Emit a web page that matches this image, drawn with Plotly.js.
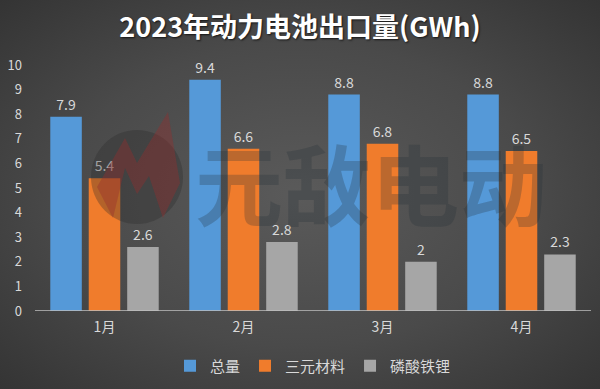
<!DOCTYPE html>
<html><head><meta charset="utf-8">
<script src="https://cdn.plot.ly/plotly-3.0.1.min.js"></script>
<style>
html,body{margin:0;padding:0;}
#chart{width:600px;height:389px;background:radial-gradient(ellipse at 50% 50%, #5a5a5a 0%, #4a4a4a 55%, #343434 100%);}
</style></head>
<body><div id="chart"></div>
<script>
const months = ['1月','2月','3月','4月'];
const total = [7.9, 9.4, 8.8, 8.8];
const ternary = [5.4, 6.6, 6.8, 6.5];
const lfp = [2.6, 2.8, 2, 2.3];
const seriesNames = ['总量','三元材料','磷酸铁锂'];
const yTicks = [0,1,2,3,4,5,6,7,8,9,10];

const FONT = '"Noto Sans CJK SC", "Noto Sans", sans-serif';
const labelFont = {family: FONT, size: 14, color: '#d9d9d9'};
function bar(name, vals, color){
  return {type:'bar', name:name, x:months, y:vals, marker:{color:color},
    text: vals.map(v=>String(v)), textposition:'outside', textfont:labelFont,
    cliponaxis:false, hoverinfo:'none'};
}
const data = [
  bar(seriesNames[0], total, '#5599d8'),
  bar(seriesNames[1], ternary, '#f07c2c'),
  bar(seriesNames[2], lfp, '#a6a6a6')
];
// paper-coord helpers for the watermark (plot area 35..591 x, 65..311 y)
const px = v => (v-35)/556, py = v => (311-v)/246;
const logoPts = [[97,187],[125,138],[137,163],[168,112],[180,183],[163,218],[149,176],[137,194],[125,168],[113,218]];
const logoPath = 'M' + logoPts.map(p=>px(p[0]).toFixed(4)+','+py(p[1]).toFixed(4)).join(' L') + ' Z';
const layout = {
  width:600, height:389,
  margin:{l:35, r:9, t:65, b:78, autoexpand:false},
  paper_bgcolor:'rgba(0,0,0,0)', plot_bgcolor:'rgba(0,0,0,0)',
  font:{family:FONT, color:'#d9d9d9'},
  title:{text:'2023年动力电池出口量(GWh)', x:0.5, xanchor:'center', y:0.928, yanchor:'middle',
    font:{family:FONT, size:27, color:'#ffffff', weight:'bold', shadow:'1px 1px 2px rgba(0,0,0,0.7)'}},
  barmode:'group', bargap:0.17, bargroupgap:0.18,
  xaxis:{showgrid:false, zeroline:false, showline:false, ticks:'', tickfont:{family:FONT, size:14, color:'#d9d9d9'}, ticklabelstandoff:6},
  yaxis:{range:[0,10], tickvals:yTicks, showgrid:false, zeroline:false, showline:false, ticks:'',
    tickfont:{family:FONT, size:13, color:'#d9d9d9'}, ticklabelstandoff:12, fixedrange:true},
  showlegend:true,
  legend:{orientation:'h', x:0.5, xanchor:'center', y:-0.224, yanchor:'middle',
    font:{family:FONT, size:15, color:'#d9d9d9'}, itemwidth:30, bgcolor:'rgba(0,0,0,0)'},
  shapes:[
    {type:'line', xref:'paper', yref:'y', x0:0, x1:1, y0:0, y1:0, line:{color:'#bfbfbf', width:1.5}, layer:'above'},
    {type:'circle', xref:'paper', yref:'paper', x0:px(91), x1:px(183), y0:py(224), y1:py(130),
      fillcolor:'rgba(40,40,40,0.3)', line:{width:0}, layer:'above'},
    {type:'path', xref:'paper', yref:'paper', path:logoPath, fillcolor:'rgba(150,45,45,0.38)', line:{width:0}, layer:'above'}
  ],
  annotations:[
    {text:'<b>元敌电动</b>', xref:'paper', yref:'paper', x:px(371), y:py(180), showarrow:false,
      font:{family:FONT, size:88, color:'rgba(35,45,55,0.26)'}, xanchor:'center', yanchor:'middle'}
  ]
};
Plotly.newPlot('chart', data, layout, {displayModeBar:false, staticPlot:true});
</script></body></html>
